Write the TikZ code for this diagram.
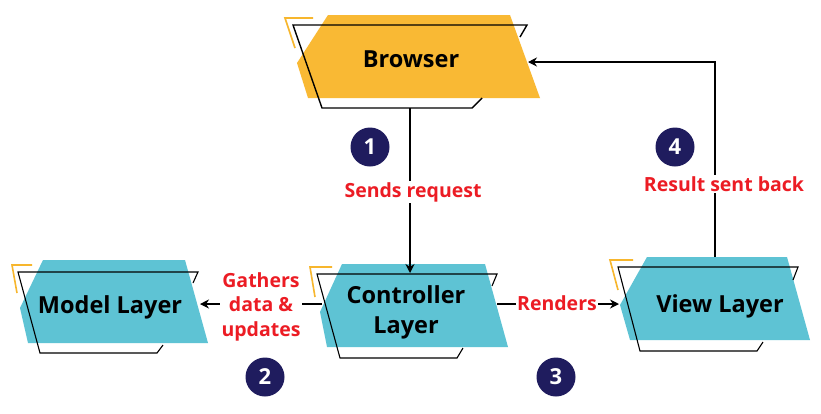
\documentclass[tikz,border=0pt]{standalone}
\usepackage{fontspec}
\setmainfont{Open Sans}
\usetikzlibrary{arrows.meta}
\definecolor{tealf}{RGB}{94,195,212}
\definecolor{ylw}{RGB}{249,185,52}
\definecolor{brk}{RGB}{247,182,45}
\definecolor{navy}{RGB}{31,28,94}
\definecolor{redtxt}{RGB}{236,28,36}
\begin{document}
\begin{tikzpicture}[x=1pt,y=-1pt,
  outl/.style={line width=1.1pt, black},
  brkt/.style={draw=brk, line width=1.6pt},
  lbl/.style={font=\fontsize{23.5}{30}\selectfont\bfseries, text=black, align=center, inner sep=0pt},
  rlbl/.style={font=\fontsize{19.5}{24.5}\selectfont\bfseries, text=redtxt, fill=white, align=center, inner sep=1.5pt},
  num/.style={circle, fill=navy, minimum size=39pt, inner sep=0pt, text=white, font=\fontsize{22}{22}\selectfont\bfseries},
  conn/.style={line width=1.2pt, black},
  arr/.style={conn, -{Stealth[length=9pt,width=9pt]}}
]
\useasboundingbox[fill=white] (0,0) rectangle (821,413);

% ---- Browser shape
\fill[ylw] (328,15) -- (510,15) -- (540,98) -- (308,98) -- (297,63) -- cycle;
\draw[brkt] (295,48) -- (285,18) -- (313,18);
\draw[outl, line width=1.4pt] (520,37) -- (527,25) -- (293,25) -- (322,108) -- (472,108) -- (482,98);
\node[lbl, anchor=base] (browser) at (411,67) {Browser};

% ---- Model shape
\fill[tealf] (43,260) -- (185,260) -- (208,343) -- (28,343) -- (20,308) -- cycle;
\draw[brkt] (17,293) -- (12,265) -- (32,265);
\draw[outl] (193,283) -- (198,272) -- (18,272) -- (40,353) -- (157,353) -- (163,345);
\node[lbl, anchor=base] (model) at (110,313) {Model Layer};

% ---- Controller shape
\fill[tealf] (342,264) -- (485,264) -- (508,347) -- (327,347) -- (320,312) -- cycle;
\draw[brkt] (315,297) -- (310,267) -- (332,267);
\draw[outl] (492,286) -- (497,274) -- (317,274) -- (340,358) -- (457,358) -- (463,348);
\node[lbl, anchor=base] (ctrl) at (406,333) {Controller\\Layer};

% ---- View shape
\fill[tealf] (647,257) -- (787,257) -- (810,340) -- (630,340) -- (620,305) -- cycle;
\draw[brkt] (618,290) -- (610,260) -- (633,260);
\draw[outl] (793,280) -- (798,267) -- (618,267) -- (640,351) -- (757,351) -- (763,342);
\node[lbl, anchor=base] (view) at (720,312) {View Layer};

% ---- connector end points
\coordinate (bBot) at (410,108);
\coordinate (bRight) at (528,62);
\coordinate (cTop) at (410,273);
\coordinate (cLeft) at (322,304);
\coordinate (cRight) at (497,304);
\coordinate (mRight) at (200,304);
\coordinate (vLeft) at (619,304);
\coordinate (vTop) at (715,257);
\coordinate (corner) at (715,62);

% ---- connectors
\draw[arr] (bBot) -- (cTop);
\draw[arr] (cLeft) -- (mRight);
\draw[arr] (cRight) -- (vLeft);
\draw[arr] (vTop) -- (corner) -- (bRight);

% ---- labels
\node[rlbl, anchor=base] (l1) at (413,197) {Sends request};
\node[rlbl, anchor=base] (l2) at (261,336) {Gathers\\data \&\\updates};
\node[rlbl, anchor=base] (l3) at (557,310) {Renders};
\node[rlbl, anchor=base] (l4) at (724,191) {Result sent back};

% ---- step numbers
\node[num] (n1) at (370,147) {1};
\node[num] (n2) at (265,377) {2};
\node[num] (n3) at (556,377) {3};
\node[num] (n4) at (675,147) {4};
\end{tikzpicture}
\end{document}
